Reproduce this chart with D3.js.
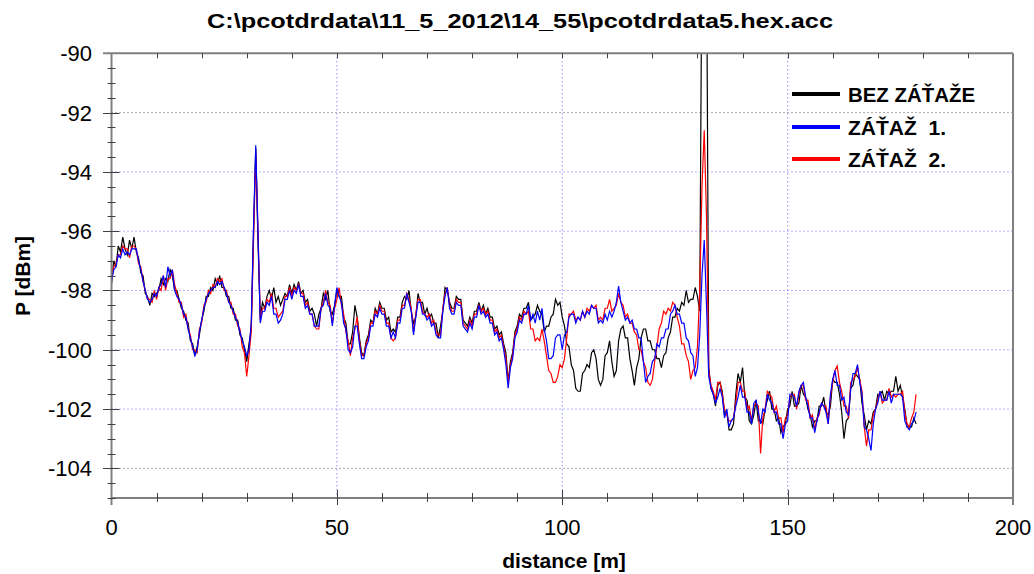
<!DOCTYPE html>
<html>
<head>
<meta charset="utf-8">
<script src="https://cdn.jsdelivr.net/npm/d3@7"></script>
<style>
  html, body { margin: 0; padding: 0; background: #fff; }
  svg { display: block; }
  text { font-family: "Liberation Sans", Arial, sans-serif; }
</style>
</head>
<body>
<svg id="chart" width="1034" height="574"></svg>
<script>
// OTDR trace sampling grid (metres)
const distStart = 0;
const distStep = 0.5;

const titleText = "C:\\pcotdrdata\\11_5_2012\\14_55\\pcotdrdata5.hex.acc";
const seriesNames = ["BEZ ZÁŤAŽE", "ZÁŤAŽ  1.", "ZÁŤAŽ  2."];
const seriesColors = ["#000000", "#0000ff", "#ff0000"];

const xTicks = [0, 50, 100, 150, 200];
const yTicks = [-90, -92, -94, -96, -98, -100, -102, -104];

// Backscatter power [dBm], one value per 0.5 m, rows of 5 m
const bezZatazeDbm = [
  -97.8,-97.0,-97.2,-96.5,-96.7,-96.2,-96.6,-96.8,-96.3,-96.6,
  -96.2,-96.7,-96.9,-97.4,-97.5,-98.1,-98.2,-98.5,-98.1,-98.2,
  -98.1,-98.0,-97.6,-97.8,-97.6,-97.7,-97.3,-97.5,-98.0,-98.0,
  -98.3,-98.6,-98.7,-99.0,-99.1,-99.7,-99.8,-100.2,-99.9,-99.5,
  -99.0,-98.7,-98.2,-98.2,-97.9,-98.0,-97.6,-97.8,-97.5,-97.9,
  -97.9,-98.2,-98.2,-98.6,-98.6,-99.0,-99.0,-99.5,-99.6,-100.0,
  -100.4,-99.8,-99.3,-96.1,-93.2,-96.4,-98.9,-98.4,-98.6,-98.2,
  -98.0,-98.3,-97.9,-98.4,-98.2,-98.5,-98.3,-98.1,-98.2,-97.8,
  -98.1,-97.8,-98.0,-97.7,-98.1,-98.0,-98.4,-98.3,-98.7,-98.6,
  -98.8,-99.2,-98.8,-98.6,-98.1,-98.3,-98.0,-98.7,-98.8,-98.5,
  -98.0,-98.2,-98.2,-98.9,-99.1,-99.8,-99.8,-99.4,-98.5,-98.9,
  -99.6,-100.1,-100.2,-99.7,-99.5,-99.0,-99.1,-98.6,-98.8,-98.4,
  -98.6,-98.6,-99.0,-98.9,-99.4,-99.3,-99.4,-98.9,-98.9,-98.4,
  -98.2,-98.3,-98.0,-98.7,-99.1,-98.9,-98.1,-98.4,-98.4,-98.8,
  -98.6,-98.9,-98.8,-99.1,-99.1,-99.6,-99.2,-98.7,-97.9,-98.0,
  -98.4,-98.6,-98.6,-98.2,-98.3,-98.3,-99.0,-99.1,-99.2,-98.9,
  -99.1,-98.7,-98.7,-98.4,-98.7,-98.5,-98.8,-98.6,-98.9,-98.9,
  -99.3,-99.2,-99.5,-99.4,-99.8,-100.1,-101.1,-100.4,-100.1,-99.4,
  -99.2,-98.8,-98.9,-98.6,-98.6,-98.4,-99.0,-98.9,-98.8,-98.5,
  -98.7,-98.8,-99.4,-99.2,-99.2,-98.9,-98.8,-98.3,-98.5,-98.4,
  -98.9,-99.2,-99.8,-99.9,-100.5,-100.7,-101.3,-101.4,-101.4,-100.8,
  -100.7,-100.5,-100.6,-100.1,-100.0,-100.3,-101.0,-101.2,-101.0,-100.2,
  -100.1,-99.7,-100.4,-100.9,-100.7,-99.7,-99.3,-99.2,-99.6,-99.6,
  -100.3,-100.7,-101.2,-100.6,-100.3,-99.6,-99.3,-99.3,-99.7,-99.7,
  -100.0,-100.0,-100.3,-100.3,-100.6,-100.2,-100.1,-99.6,-99.4,-98.9,
  -98.9,-98.6,-98.7,-98.4,-98.5,-98.0,-98.4,-98.3,-98.3,-97.9,
  -98.2,-98.7,-86.0,-86.0,-86.0,-100.6,-101.3,-101.5,-101.9,-101.2,
  -101.1,-101.4,-102.2,-102.1,-102.7,-102.7,-102.5,-101.5,-100.8,-101.1,
  -100.6,-101.6,-101.7,-102.4,-102.5,-102.2,-101.7,-102.4,-102.4,-102.5,
  -102.0,-101.7,-101.4,-102.0,-102.0,-102.4,-102.3,-102.8,-102.6,-102.5,
  -102.0,-101.9,-101.4,-101.9,-101.9,-101.8,-101.2,-101.5,-101.6,-102.0,
  -102.2,-102.6,-102.4,-102.4,-101.9,-101.9,-101.6,-102.1,-102.2,-101.9,
  -101.0,-101.1,-101.1,-101.5,-102.1,-103.0,-102.4,-102.3,-101.3,-101.2,
  -100.8,-100.9,-101.0,-101.8,-102.2,-102.7,-102.4,-102.5,-102.1,-102.0,
  -101.5,-101.5,-101.4,-101.7,-101.4,-101.5,-101.4,-101.4,-100.9,-101.4,
  -101.2,-101.6,-102.0,-102.6,-102.6,-102.6,-102.3,-102.5
];

const zataz1Dbm = [
  -97.7,-97.3,-97.2,-96.8,-96.9,-96.6,-96.8,-96.7,-96.8,-96.6,
  -96.6,-96.6,-97.0,-97.3,-97.7,-98.0,-98.3,-98.4,-98.3,-98.1,
  -98.2,-97.9,-97.8,-97.5,-97.9,-97.2,-97.5,-97.3,-98.0,-98.2,
  -98.3,-98.5,-98.8,-98.9,-99.3,-99.6,-99.9,-100.2,-100.0,-99.4,
  -99.0,-98.6,-98.3,-98.1,-98.0,-97.9,-97.9,-97.7,-97.8,-97.7,
  -97.9,-98.1,-98.4,-98.5,-98.7,-98.9,-99.1,-99.4,-99.7,-99.9,
  -100.2,-100.0,-99.1,-95.9,-93.1,-96.0,-99.1,-98.7,-98.7,-98.4,
  -98.5,-98.2,-98.8,-98.8,-99.1,-99.0,-98.8,-98.3,-98.3,-98.0,
  -98.3,-98.0,-98.1,-97.8,-98.2,-98.2,-98.6,-98.5,-98.8,-98.8,
  -99.2,-99.2,-99.2,-98.6,-98.5,-98.1,-98.5,-98.6,-99.2,-98.5,
  -97.9,-98.2,-98.4,-99.1,-99.3,-100.0,-100.1,-99.9,-99.2,-99.2,
  -99.8,-100.3,-100.3,-99.9,-99.7,-99.2,-99.2,-98.8,-98.9,-98.6,
  -98.8,-98.8,-99.2,-99.2,-99.6,-99.4,-99.6,-99.1,-99.1,-98.6,
  -98.6,-98.1,-98.4,-98.7,-99.5,-98.9,-98.4,-98.4,-98.8,-98.8,
  -99.0,-98.9,-99.2,-99.1,-99.5,-99.6,-99.6,-98.7,-98.2,-97.9,
  -98.6,-98.8,-98.8,-98.4,-98.5,-98.5,-99.2,-99.3,-99.4,-99.1,
  -99.3,-98.9,-98.9,-98.5,-98.8,-98.7,-98.9,-98.8,-99.1,-99.1,
  -99.5,-99.4,-99.7,-99.6,-100.0,-100.5,-101.3,-100.6,-100.3,-99.6,
  -99.4,-99.0,-99.1,-98.8,-98.8,-98.5,-99.0,-98.8,-99.1,-98.7,
  -99.0,-98.6,-99.3,-99.7,-100.3,-100.3,-100.2,-99.6,-99.5,-99.5,
  -100.0,-99.5,-99.4,-98.9,-98.8,-98.8,-99.1,-98.9,-99.0,-98.7,
  -98.9,-98.7,-98.8,-98.5,-98.6,-98.6,-99.1,-99.0,-99.1,-98.8,
  -99.0,-98.7,-98.9,-98.7,-98.4,-97.85,-98.4,-98.7,-99.0,-98.9,
  -99.1,-99.0,-99.3,-99.3,-99.6,-99.6,-100.4,-101.1,-100.9,-100.8,
  -100.4,-100.3,-99.8,-99.9,-99.6,-99.6,-99.3,-99.3,-98.8,-98.7,
  -98.5,-98.8,-98.8,-99.1,-99.1,-99.6,-99.7,-100.1,-100.2,-100.9,
  -100.6,-99.5,-97.5,-96.3,-98.5,-100.9,-101.3,-101.5,-101.8,-101.6,
  -101.3,-101.6,-102.3,-102.0,-102.6,-102.4,-102.3,-101.9,-101.6,-101.2,
  -101.6,-101.6,-102.1,-102.1,-102.5,-101.8,-101.7,-102.1,-102.5,-102.0,
  -102.1,-101.5,-101.7,-101.8,-102.1,-102.1,-102.5,-102.5,-103.0,-102.5,
  -102.4,-101.5,-101.5,-101.6,-101.9,-101.4,-101.2,-101.1,-101.6,-101.9,
  -102.3,-102.3,-102.8,-102.4,-102.1,-101.8,-101.9,-102.1,-102.5,-101.5,
  -101.0,-100.7,-101.2,-101.2,-101.7,-101.6,-102.1,-102.2,-101.3,-100.8,
  -100.8,-100.5,-101.1,-101.5,-102.6,-102.7,-103.0,-103.4,-102.5,-102.0,
  -101.8,-101.4,-101.7,-101.7,-101.7,-101.4,-101.8,-101.5,-101.5,-101.5,
  -101.5,-101.6,-102.4,-102.6,-102.7,-102.5,-102.4,-102.1
];

const zataz2Dbm = [
  -97.5,-97.2,-97.1,-96.8,-96.8,-96.5,-96.6,-96.6,-96.9,-96.5,
  -96.5,-96.6,-97.1,-97.2,-97.7,-98.0,-98.3,-98.3,-98.4,-98.0,
  -98.3,-97.9,-98.0,-97.5,-98.0,-97.6,-97.6,-97.3,-97.8,-98.1,
  -98.4,-98.4,-98.9,-98.8,-99.3,-99.5,-100.0,-100.0,-100.1,-99.3,
  -99.1,-98.5,-98.4,-98.0,-98.1,-97.8,-97.9,-97.6,-97.7,-97.6,
  -98.0,-98.0,-98.4,-98.4,-98.8,-98.8,-99.2,-99.3,-99.9,-100.1,
  -100.9,-100.2,-99.4,-96.4,-93.4,-96.0,-99.0,-98.6,-98.6,-98.3,
  -98.4,-98.1,-98.6,-98.6,-98.9,-98.8,-98.7,-98.2,-98.2,-97.9,
  -98.2,-97.9,-98.0,-97.8,-98.1,-98.1,-98.5,-98.4,-98.8,-98.8,
  -99.2,-99.3,-99.3,-98.6,-98.4,-98.0,-98.4,-98.5,-99.1,-98.6,
  -98.3,-97.9,-98.5,-98.8,-99.4,-99.7,-100.2,-99.6,-99.3,-98.9,
  -99.7,-100.2,-100.2,-99.8,-99.6,-99.1,-99.1,-98.7,-98.8,-98.5,
  -98.7,-98.7,-99.1,-99.1,-99.6,-99.7,-99.6,-99.0,-99.0,-98.5,
  -98.5,-98.1,-98.3,-98.6,-99.4,-98.8,-98.3,-98.3,-98.7,-98.8,
  -98.9,-98.8,-99.1,-99.0,-99.4,-99.5,-99.5,-98.6,-98.1,-97.9,
  -98.5,-98.7,-98.7,-98.3,-98.4,-98.4,-99.1,-99.2,-99.3,-99.0,
  -99.2,-98.8,-98.8,-98.5,-98.7,-98.6,-98.8,-98.7,-99.0,-99.0,
  -99.4,-99.3,-99.6,-99.5,-99.9,-100.3,-101.1,-100.5,-100.2,-99.5,
  -99.3,-98.9,-99.0,-98.7,-98.8,-98.7,-99.3,-99.3,-99.7,-99.6,
  -99.7,-99.3,-99.7,-100.2,-100.7,-100.8,-101.1,-101.1,-100.9,-100.5,
  -100.6,-100.3,-99.6,-98.8,-98.8,-98.7,-99.0,-98.9,-99.0,-98.7,
  -98.9,-98.6,-98.7,-98.5,-98.6,-98.5,-99.0,-98.9,-99.0,-98.6,
  -98.6,-98.3,-98.7,-98.6,-98.5,-98.1,-98.4,-98.5,-98.9,-98.8,
  -99.1,-99.1,-99.4,-99.5,-100.0,-100.0,-100.4,-100.6,-101.1,-101.2,
  -101.0,-100.4,-99.9,-99.3,-99.1,-98.7,-98.8,-98.6,-98.7,-98.4,
  -98.5,-98.9,-99.2,-99.8,-99.8,-100.2,-100.4,-101.0,-100.7,-100.6,
  -99.9,-98.0,-94.5,-92.6,-95.5,-100.7,-101.2,-101.4,-101.7,-101.1,
  -101.1,-101.5,-102.0,-102.2,-102.4,-102.4,-102.3,-101.8,-101.1,-101.1,
  -101.4,-101.4,-102.0,-101.9,-102.4,-101.9,-101.8,-101.9,-103.5,-102.3,
  -102.0,-101.4,-101.5,-101.6,-102.1,-101.9,-102.3,-102.3,-102.8,-102.3,
  -102.2,-101.6,-101.5,-101.5,-102.0,-101.5,-101.2,-101.2,-101.7,-101.7,
  -102.3,-102.2,-102.7,-102.3,-102.2,-101.8,-101.9,-101.9,-102.5,-101.6,
  -101.1,-100.7,-100.55,-101.1,-101.4,-101.9,-101.9,-102.3,-101.1,-101.0,
  -100.9,-100.6,-101.0,-101.4,-102.6,-103.25,-102.7,-102.7,-102.2,-102.0,
  -101.7,-101.4,-101.8,-101.7,-101.7,-101.3,-101.6,-101.5,-101.6,-101.5,
  -101.5,-101.4,-102.1,-102.5,-102.6,-102.3,-102.1,-101.5
];

// ---------------------------------------------------------------
const svg = d3.select("#chart");
const plot = { left: 111.5, right: 1013, top: 53.3, bottom: 498 };
const frameColor = "#808080";

const x = d3.scaleLinear().domain([0, 200]).range([plot.left, plot.right]);
const y = d3.scaleLinear().domain([-105, -90]).range([plot.bottom, plot.top]);

// dotted grid
const grid = svg.append("g").attr("class", "grid");
const gridColor = v => (v === -92 || v === -104) ? "#555555" : "#6060ff";
grid.selectAll("line.h").data(yTicks.filter(v => v !== -90)).join("line")
  .attr("x1", plot.left).attr("x2", plot.right)
  .attr("y1", d => y(d)).attr("y2", d => y(d))
  .attr("stroke", gridColor).attr("stroke-width", 1)
  .attr("stroke-dasharray", "1,3");
grid.selectAll("line.v").data(xTicks.filter(v => v > 0 && v < 200)).join("line")
  .attr("x1", d => x(d)).attr("x2", d => x(d))
  .attr("y1", plot.top).attr("y2", plot.bottom)
  .attr("stroke", "#6060ff").attr("stroke-width", 1)
  .attr("stroke-dasharray", "1,3");

// traces
svg.append("defs").append("clipPath").attr("id", "plotClip")
  .append("rect")
  .attr("x", plot.left).attr("y", plot.top)
  .attr("width", plot.right - plot.left).attr("height", plot.bottom - plot.top);

const traces = [
  { name: seriesNames[0], color: seriesColors[0], values: bezZatazeDbm },
  { name: seriesNames[2], color: seriesColors[2], values: zataz2Dbm },
  { name: seriesNames[1], color: seriesColors[1], values: zataz1Dbm }
];
const line = d3.line()
  .x((d, i) => x(distStart + i * distStep))
  .y(d => y(d));

svg.append("g").attr("clip-path", "url(#plotClip)")
  .selectAll("path").data(traces).join("path")
  .attr("d", d => line(d.values))
  .attr("fill", "none")
  .attr("stroke", d => d.color)
  .attr("stroke-width", 1.2)
  .attr("stroke-linejoin", "miter");

// axes frame and ticks
const axes = svg.append("g").attr("stroke", frameColor).attr("stroke-width", 2);
axes.append("line").attr("x1", 103).attr("x2", plot.right).attr("y1", plot.top).attr("y2", plot.top);
axes.append("line").attr("x1", plot.left).attr("x2", plot.right).attr("y1", plot.bottom).attr("y2", plot.bottom);
axes.append("line").attr("x1", plot.left).attr("x2", plot.left).attr("y1", plot.top).attr("y2", plot.bottom + 7);
axes.append("line").attr("x1", plot.right).attr("x2", plot.right).attr("y1", plot.top).attr("y2", plot.bottom + 7);

const tickG = svg.append("g").attr("stroke", "#404040").attr("stroke-width", 1);
const yMinor = d3.range(-105, -89.9, 0.5).filter(v => !yTicks.includes(v));
tickG.selectAll("line.ym").data(yMinor).join("line")
  .attr("x1", plot.left - 4).attr("x2", plot.left + 4)
  .attr("y1", d => Math.round(y(d)) + 0.5).attr("y2", d => Math.round(y(d)) + 0.5);
tickG.selectAll("line.yM").data(yTicks.filter(v => v !== -90)).join("line")
  .attr("x1", 103).attr("x2", plot.left + 8)
  .attr("y1", d => Math.round(y(d)) + 0.5).attr("y2", d => Math.round(y(d)) + 0.5);
const xMinor = d3.range(10, 200, 10).filter(v => !xTicks.includes(v));
tickG.selectAll("line.xm").data(xMinor).join("line")
  .attr("x1", d => Math.round(x(d)) + 0.5).attr("x2", d => Math.round(x(d)) + 0.5)
  .attr("y1", plot.bottom - 5).attr("y2", plot.bottom + 4);
tickG.selectAll("line.xM").data(xTicks.filter(v => v > 0 && v < 200)).join("line")
  .attr("x1", d => Math.round(x(d)) + 0.5).attr("x2", d => Math.round(x(d)) + 0.5)
  .attr("y1", plot.bottom - 8).attr("y2", plot.bottom + 7);
tickG.selectAll("line.xt").data(d3.range(10, 200, 10)).join("line")
  .attr("x1", d => Math.round(x(d)) + 0.5).attr("x2", d => Math.round(x(d)) + 0.5)
  .attr("y1", plot.top).attr("y2", plot.top + 5);

// tick labels
svg.append("g").selectAll("text").data(yTicks).join("text")
  .attr("x", 92).attr("y", d => y(d) + 8)
  .attr("text-anchor", "end")
  .attr("font-size", 22).attr("fill", "#000")
  .text(d => d);
svg.append("g").selectAll("text").data(xTicks).join("text")
  .attr("x", d => x(d)).attr("y", 535)
  .attr("text-anchor", "middle")
  .attr("font-size", 22).attr("fill", "#000")
  .text(d => d);

// titles
svg.append("text")
  .attr("x", 207).attr("y", 28)
  .attr("font-size", 21).attr("font-weight", "bold")
  .attr("textLength", 626).attr("lengthAdjust", "spacingAndGlyphs")
  .text(titleText);
svg.append("text")
  .attr("x", 564).attr("y", 568)
  .attr("text-anchor", "middle")
  .attr("font-size", 21).attr("font-weight", "bold")
  .text("distance [m]");
svg.append("text")
  .attr("transform", "translate(30,276) rotate(-90)")
  .attr("text-anchor", "middle")
  .attr("font-size", 21).attr("font-weight", "bold")
  .text("P [dBm]");

// legend
const legendRows = [0, 1, 2].map(i => ({ name: seriesNames[i], color: seriesColors[i] }));
const legendY = [94, 127, 159];
const lg = svg.append("g").selectAll("g").data(legendRows).join("g");
lg.append("line")
  .attr("x1", 792).attr("x2", 840)
  .attr("y1", (d, i) => legendY[i]).attr("y2", (d, i) => legendY[i])
  .attr("stroke", d => d.color).attr("stroke-width", 4);
lg.append("text")
  .attr("x", 848).attr("y", (d, i) => legendY[i] + 8)
  .attr("font-family", "Lato, 'Open Sans', sans-serif")
  .attr("font-size", 20).attr("font-weight", "bold")
  .style("white-space", "pre")
  .attr("textLength", (d, i) => i === 0 ? 127 : 98)
  .attr("lengthAdjust", "spacingAndGlyphs")
  .text(d => d.name);
</script>
</body>
</html>
